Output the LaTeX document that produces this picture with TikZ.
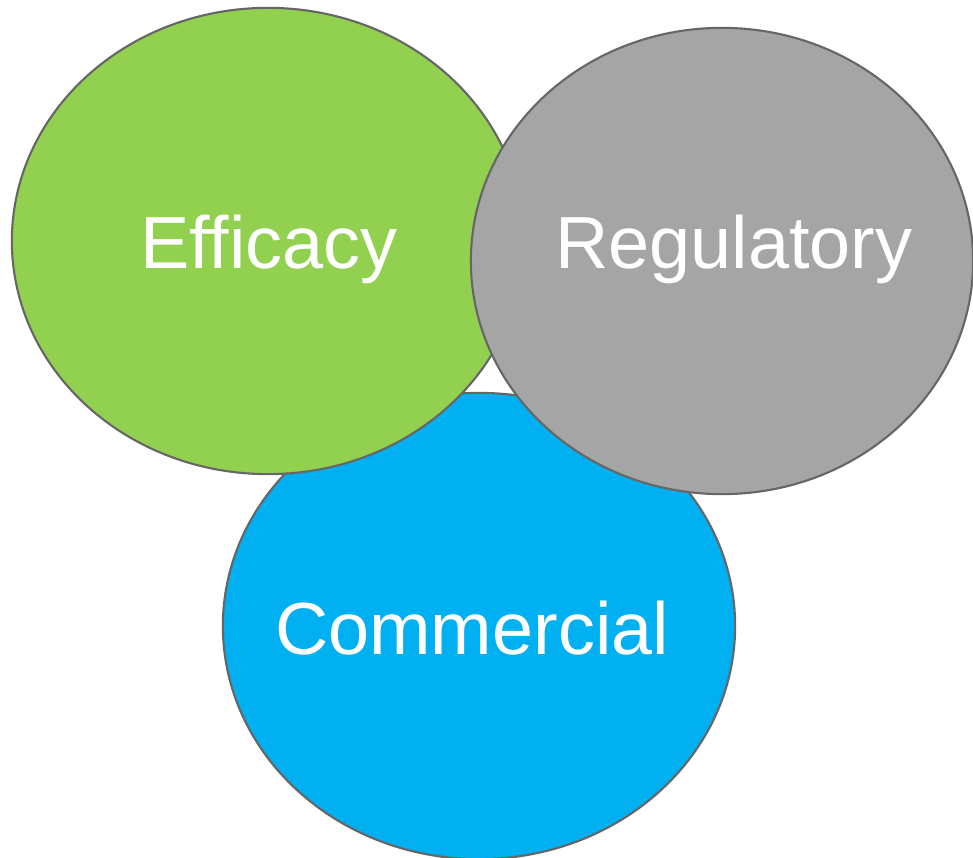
\documentclass[tikz,border=0pt]{standalone}
\usepackage{fontspec}
\setmainfont{Liberation Sans}
\usetikzlibrary{shapes.geometric}

\definecolor{effgreen}{HTML}{92D050}
\definecolor{reggray}{HTML}{A5A5A5}
\definecolor{comblue}{HTML}{00B0F0}
\definecolor{rimgray}{HTML}{666666}

\tikzset{
  area/.style={draw=rimgray,line width=0.6pt,ellipse,inner sep=0pt,
    minimum width=5.12cm,minimum height=4.66cm},
  tag/.style={text=white,inner sep=0pt,font=\fontsize{21}{25}\selectfont,
    text height=15pt,text depth=0pt},
}

\begin{document}
\begin{tikzpicture}[x=0.01cm,y=-0.01cm]
  \useasboundingbox (0,0) rectangle (973,858);
    \coordinate (effC) at (268,241);
    \coordinate (regC) at (722,261);
    \coordinate (comC) at (479,626);

    % bottom one first, the others overlap it
    \node[area,fill=comblue] (com) at (comC) {};
    \node[area,fill=effgreen] (eff) at (effC) {};
    \node[area,fill=reggray,minimum width=5.02cm] (reg) at (regC) {};

    \node[tag] (effT) at (269,242) {Efficacy};
    \node[tag] (regT) at (734,242) {Regulatory};
    \node[tag] (comT) at (472,628) {Commercial};
\end{tikzpicture}
\end{document}
